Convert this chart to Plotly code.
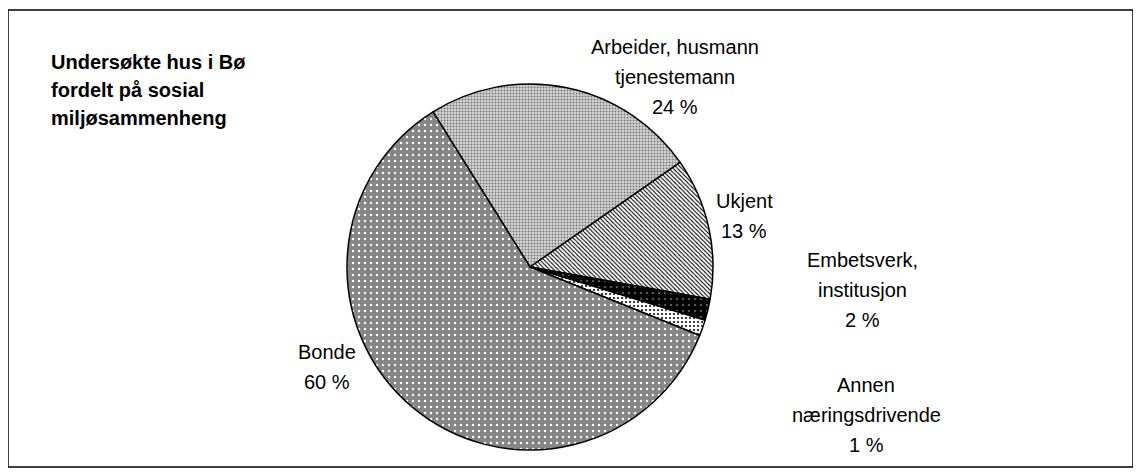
import plotly.graph_objects as go

# ---- data ----
categories = ["Arbeider, husmann\ntjenestemann", "Ukjent", "Embetsverk,\ninstitusjon",
              "Annen\nnæringsdrivende", "Bonde"]
values = [24.2, 12.5, 1.9, 1.4, 60.0]
pct_labels = ["24 %", "13 %", "2 %", "1 %", "60 %"]
title_lines = ["Undersøkte hus i Bø", "fordelt på sosial", "miljøsammenheng"]

# ---- styles ----
# figure is drawn inside the page's 8px body margin
OFF = 8
W, H = 1125, 460


def px(x):
    return (x - OFF) / W


def py(y):
    return 1 - (y - OFF) / H


cx, cy, r = 530, 267, 183
bg = ["#d4d4d4", "#ffffff", "#000000", "#ffffff", "#868686"]
fg = ["#7a7a7a", "#000000", "#555555", "#000000", "#ffffff"]
shapes_p = [".", "\\", ".", ".", "."]
sizes_p = [3, 3, 6, 4, 6]
solid_p = [0.35, 0.35, 0.15, 0.2, 0.12]

fig = go.Figure(go.Pie(
    labels=[c.replace("\n", " ") for c in categories],
    values=values,
    sort=False,
    direction="clockwise",
    rotation=-32,
    textinfo="none",
    hoverinfo="label+percent",
    showlegend=False,
    marker=dict(colors=bg, line=dict(color="black", width=1.5),
                pattern=dict(shape=shapes_p, fgcolor=fg, bgcolor=bg,
                             size=sizes_p, solidity=solid_p, fillmode="replace")),
    domain=dict(x=[px(cx - r), px(cx + r)], y=[py(cy + r), py(cy - r)]),
))

# label block centres (screen pixels) and line pitch
label_pos = [(675, 77), (744, 216), (862, 290), (866, 415), (327, 367)]
pitch = 30
ann = []
for cat, pct, (lx, ly) in zip(categories, pct_labels, label_pos):
    lines = cat.split("\n") + [pct]
    n = len(lines)
    for i, t in enumerate(lines):
        yy = ly + (i - (n - 1) / 2) * pitch
        ann.append(dict(x=px(lx), y=py(yy), xref="paper", yref="paper",
                        text=t, showarrow=False, xanchor="center", yanchor="middle",
                        font=dict(family="Liberation Sans, Arial", size=20, color="black")))
for i, t in enumerate(title_lines):
    yy = 62 + i * 28
    ann.append(dict(x=px(49), y=py(yy), xref="paper", yref="paper",
                    text="<b>" + t + "</b>", showarrow=False, xanchor="left", yanchor="middle",
                    font=dict(family="Liberation Sans, Arial", size=20, color="black")))

fig.update_layout(
    width=W, height=H,
    margin=dict(l=0, r=0, t=0, b=0),
    paper_bgcolor="white", plot_bgcolor="white",
    annotations=ann,
    shapes=[dict(type="rect", xref="paper", yref="paper",
                 x0=px(8), x1=px(1133), y0=py(467), y1=py(10),
                 line=dict(color="black", width=1.5))],
)

fig.write_html("out.html")
